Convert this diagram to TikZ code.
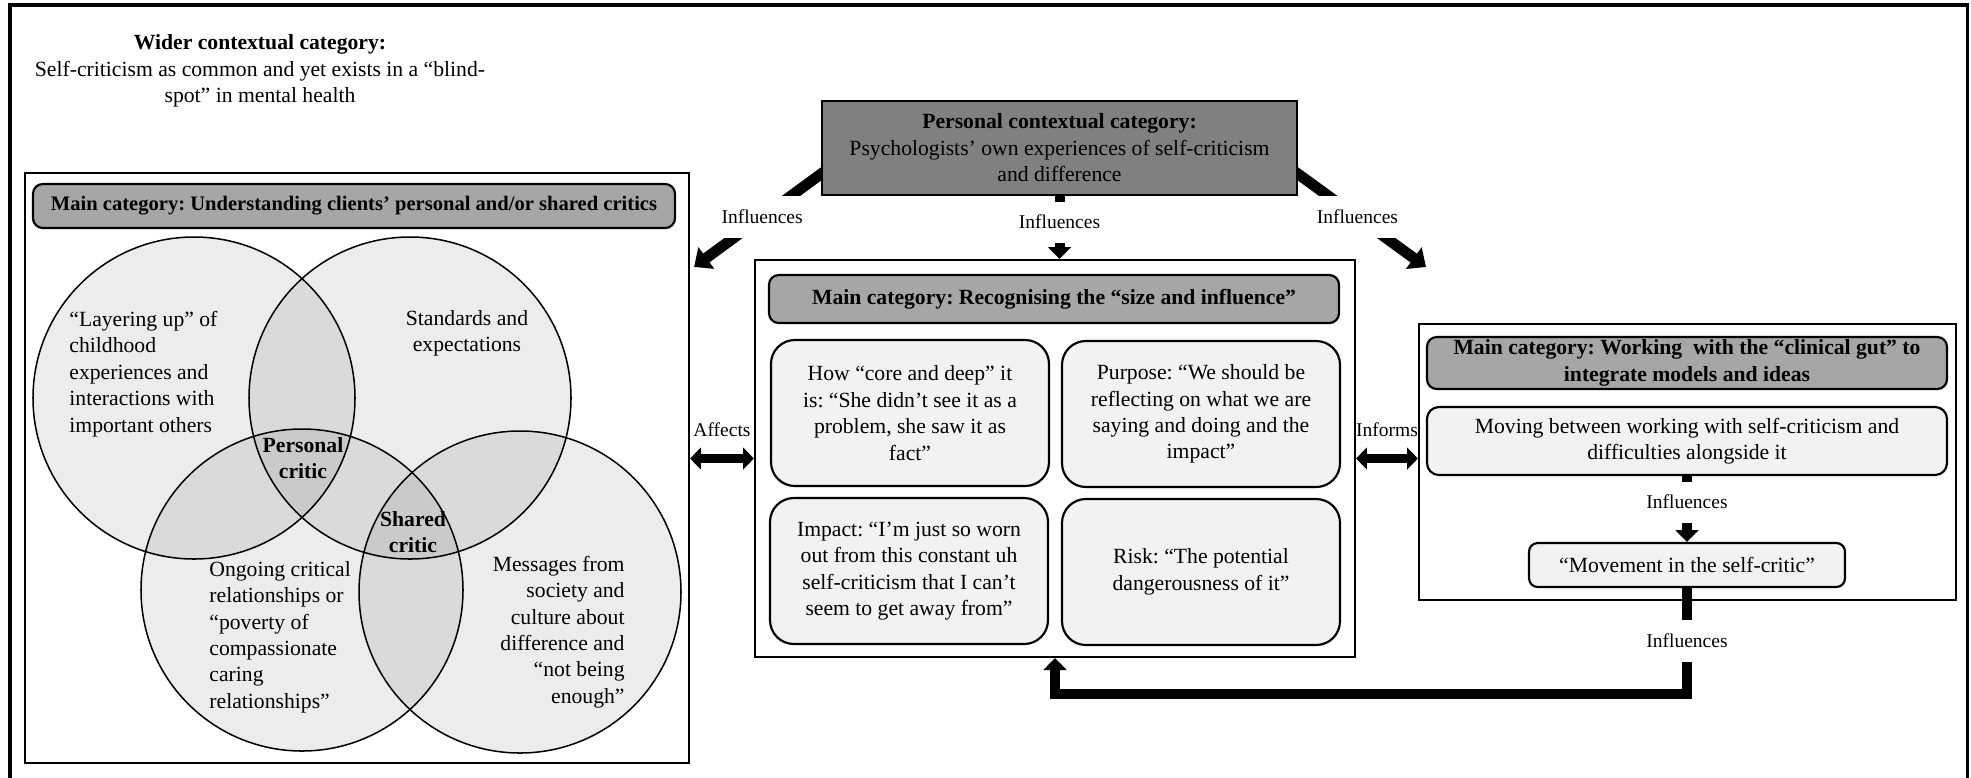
\documentclass[tikz,border=0pt]{standalone}
\usepackage{fontspec}
\setmainfont{Liberation Serif}
\usetikzlibrary{positioning, arrows.meta, calc}
\frenchspacing
\newcommand{\pxu}{0.4615pt}
\newcommand{\bodyfont}{\fontsize{10}{12.2}\selectfont}
\newcommand{\lblfont}{\fontsize{9}{10}\selectfont}
\definecolor{pccgray}{HTML}{808080}
\definecolor{headgray}{HTML}{A6A6A6}
\definecolor{lightbox}{HTML}{F2F2F2}
\pgfdeclarelayer{bg}
\pgfsetlayers{bg,main}
\tikzset{
    mainbox/.style={draw, line width=1pt, inner sep=0pt},
    pccbox/.style={draw, line width=1pt, fill=pccgray, font=\bodyfont, align=center, inner sep=0pt},
    headbox/.style={draw, line width=1pt, rounded corners=4.5pt, fill=headgray, font=\bodyfont\bfseries, align=center, inner sep=0pt},
    quotebox/.style={draw, line width=1pt, rounded corners=11pt, fill=lightbox, font=\bodyfont, align=center, inner sep=0pt, minimum width=278*\pxu, minimum height=146*\pxu},
    venn/.style={circle, draw, line width=0.7pt, fill=black, fill opacity=0.075, minimum size=322*\pxu, inner sep=0pt},
    venntext/.style={font=\bodyfont, inner sep=0pt},
    lbl/.style={fill=white, font=\lblfont, inner xsep=2pt, inner ysep=5.8pt, text height=6.5pt, text depth=1pt},
    fatarrow/.style={line width=4.6pt, -{Triangle[width=10.5pt,length=5.5pt]}},
    diagarrow/.style={line width=5pt, -{Triangle[width=12pt,length=7pt]}},
    dblarrow/.style={line width=3.8pt, {Triangle[width=10pt,length=5pt]}-{Triangle[width=10pt,length=5pt]}}
}

\begin{document}
\begin{tikzpicture}[x=\pxu, y=-\pxu]
    \useasboundingbox (0,0) rectangle (1971,777);
    % outer frame, open at the bottom
    \draw[line width=1.4pt] (10,790) -- (10,5) -- (1967,5) -- (1967,790);

    \node[font=\bodyfont, align=center] (wider) at (260,71) {\textbf{Wider contextual category:}\\Self-criticism as common and yet exists in a “blind-\\spot” in mental health};

    \node[pccbox, minimum width=475*\pxu, minimum height=94*\pxu] (pcc) at (1059.5,148) {\textbf{Personal contextual category:}\\Psychologists’ own experiences of self-criticism\\and difference};

    % left: personal and shared critics
    \node[mainbox, minimum width=664*\pxu, minimum height=590*\pxu] (lmain) at (357,468) {};
    \node[headbox, font=\fontsize{9.5}{12}\selectfont\bfseries, minimum width=642*\pxu, minimum height=44*\pxu] (lhead) at (354,206) {Main category: Understanding clients’ personal and/or shared critics};
    \node[venn] (vA) at (194,398) {};
    \node[venn] (vB) at (410,398) {};
    \node[venn] (vC) at (302,590) {};
    \node[venn] (vD) at (520,592) {};
    \node[venntext, anchor=west, align=left] (tA) at (69,374) {“Layering up” of\\childhood\\experiences and\\interactions with\\important others};
    \node[venntext, align=center] (tB) at (467,333) {Standards and\\expectations};
    \node[venntext, font=\bodyfont\bfseries, align=center] (tAB) at (303,458) {Personal\\critic};
    \node[venntext, font=\bodyfont\bfseries, align=center] (tCD) at (413,532) {Shared\\critic};
    \node[venntext, anchor=west, align=left] (tC) at (209,637) {Ongoing critical\\relationships or\\“poverty of\\compassionate\\caring\\relationships”};
    \node[venntext, anchor=east, align=right] (tD) at (625,632) {Messages from\\society and\\culture about\\difference and\\“not being\\enough”};

    % middle: size and influence
    \node[mainbox, minimum width=600*\pxu, minimum height=397*\pxu] (mmain) at (1055,458.5) {};
    \node[headbox, minimum width=570*\pxu, minimum height=48*\pxu] (mhead) at (1054,299) {Main category: Recognising the “size and influence”};
    \node[quotebox] (core) at (910,413) {How “core and deep” it\\is: “She didn’t see it as a\\problem, she saw it as\\fact”};
    \node[quotebox] (purpose) at (1201,414) {Purpose: “We should be\\reflecting on what we are\\saying and doing and the\\impact”};
    \node[quotebox] (impact) at (909,571) {Impact: “I’m just so worn\\out from this constant uh\\self-criticism that I can’t\\seem to get away from”};
    \node[quotebox] (risk) at (1201,572) {Risk: “The potential\\dangerousness of it”};

    % right: clinical gut
    \node[mainbox, minimum width=537*\pxu, minimum height=276*\pxu] (rmain) at (1687.5,462) {};
    \node[headbox, minimum width=520*\pxu, minimum height=52*\pxu] (rhead) at (1687,363) {Main category: Working~ with the “clinical gut” to\\integrate models and ideas};
    \node[quotebox, rounded corners=5.5pt, minimum width=520*\pxu, minimum height=68*\pxu] (rmove) at (1687,441) {Moving between working with self-criticism and\\difficulties alongside it};
    \node[quotebox, rounded corners=4pt, minimum width=316*\pxu, minimum height=44*\pxu] (rmovement) at (1687,565) {“Movement in the self-critic”};

    \coordinate (rtip) at (1426,267);

    \begin{pgfonlayer}{bg}
        \draw[diagarrow] ($(pcc.south west)+(4,-25)$) -- node[lbl, pos=0.48] {Influences} ($(lmain.north east)+(4,95)$);
        \draw[diagarrow] ($(pcc.south east)+(-4,-25)$) -- node[lbl, pos=0.48] {Influences} (rtip);
        \draw[fatarrow] (pcc.south) -- node[lbl, pos=0.42] {Influences} (pcc.south |- mmain.north);
        \draw[fatarrow] (rmove.south) -- node[lbl, pos=0.4] {Influences} (rmovement.north);
        \draw[fatarrow] (rmovement.south) -- node[lbl] {Influences} ++(0,106) -| (mmain.south);
    \end{pgfonlayer}
    \draw[dblarrow] (mmain.west -| lmain.east) -- node[above, font=\lblfont, inner sep=0pt, yshift=8pt] {Affects} (mmain.west);
    \draw[dblarrow] (mmain.east) -- node[above, font=\lblfont, inner sep=0pt, yshift=8pt] {Informs} (mmain.east -| rmain.west);
\end{tikzpicture}
\end{document}
